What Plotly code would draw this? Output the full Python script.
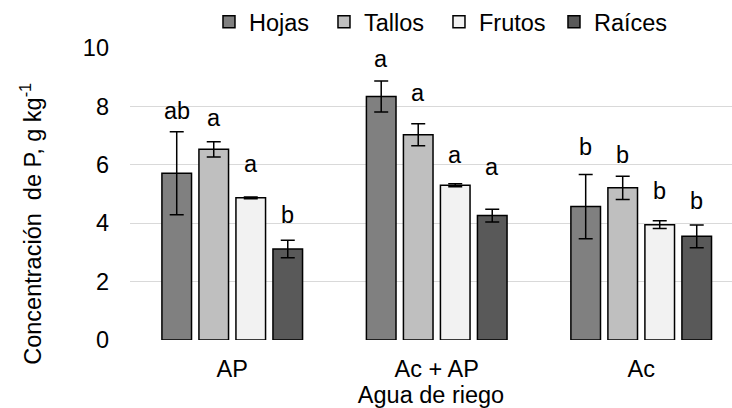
import plotly.graph_objects as go

# Tratamientos de agua de riego
categories = ["AP", "Ac + AP", "Ac"]

# Concentración de P (g kg-1) por órgano y error estándar
organs = ["Hojas", "Tallos", "Frutos", "Raíces"]
hojas = [5.71, 8.34, 4.57]
hojas_err = [1.42, 0.53, 1.10]
tallos = [6.53, 7.03, 5.21]
tallos_err = [0.26, 0.38, 0.40]
frutos = [4.87, 5.30, 3.95]
frutos_err = [0.03, 0.05, 0.13]
raices = [3.12, 4.26, 3.55]
raices_err = [0.30, 0.22, 0.39]

# Letras de comparación de medias y altura (g kg-1) a la que se escriben
hojas_letters = ["ab", "a", "b"]
tallos_letters = ["a", "a", "b"]
frutos_letters = ["a", "a", "b"]
raices_letters = ["b", "a", "b"]
hojas_letter_y = [7.53, 9.30, 6.30]
tallos_letter_y = [7.28, 8.16, 6.02]
frutos_letter_y = [5.71, 6.02, 4.79]
raices_letter_y = [3.98, 5.63, 4.46]

y_ticks = [0, 2, 4, 6, 8, 10]

FONT = "Liberation Sans, Arial, sans-serif"
FS = 23.5
colors = ["#808080", "#bfbfbf", "#f2f2f2", "#595959"]
BARGAP = 0.276
GROUPGAP = 0.2

series = [
    (hojas, hojas_err, hojas_letters, hojas_letter_y),
    (tallos, tallos_err, tallos_letters, tallos_letter_y),
    (frutos, frutos_err, frutos_letters, frutos_letter_y),
    (raices, raices_err, raices_letters, raices_letter_y),
]

fig = go.Figure()
annotations = []
slot = (1 - BARGAP) / len(series)
for i, (name, color, (vals, errs, letters, ly)) in enumerate(zip(organs, colors, series)):
    fig.add_trace(go.Bar(
        name=name,
        x=categories,
        y=vals,
        marker=dict(color=color, line=dict(color="#000000", width=1.5)),
        error_y=dict(type="data", array=errs, visible=True,
                     color="#000000", thickness=1.5, width=7),
    ))
    offset = (i - (len(series) - 1) / 2) * slot
    for k, (txt, yy) in enumerate(zip(letters, ly)):
        annotations.append(dict(
            x=k + offset, y=yy, xref="x", yref="y",
            text=txt, showarrow=False, yanchor="bottom", yshift=-6,
            font=dict(family=FONT, size=FS, color="#000000"),
        ))

annotations.append(dict(
    x=-0.1645, y=0.398, xref="paper", yref="paper",
    text="Concentración\u00a0 de P, g kg<sup>-1</sup>",
    textangle=-90, showarrow=False, xanchor="center", yanchor="middle",
    font=dict(family=FONT, size=FS, color="#000000"),
))

fig.update_layout(
    width=732, height=408,
    margin=dict(l=130, r=0, t=41, b=68),
    paper_bgcolor="#ffffff", plot_bgcolor="#ffffff",
    font=dict(family=FONT, size=FS, color="#000000"),
    barmode="group", bargap=BARGAP, bargroupgap=GROUPGAP,
    showlegend=True,
    legend=dict(orientation="h", x=0.1312, xanchor="left", y=1.09, yanchor="middle",
                font=dict(family=FONT, size=FS, color="#000000"),
                itemwidth=30, entrywidth=70, bgcolor="rgba(0,0,0,0)"),
    annotations=annotations,
    xaxis=dict(
        type="category", range=[-0.5, 2.444],
        showgrid=False, zeroline=False, showline=False,
        ticks="", ticklabelstandoff=12,
        tickfont=dict(family=FONT, size=FS, color="#000000"),
        title=dict(text="Agua de riego", standoff=6,
                   font=dict(family=FONT, size=FS, color="#000000")),
    ),
    yaxis=dict(
        range=[0, 10], tickvals=y_ticks,
        showgrid=True, gridcolor="#d9d9d9", gridwidth=1.3,
        zeroline=False, showline=False,
        ticks="", ticklabelstandoff=20,
        tickfont=dict(family=FONT, size=FS, color="#000000"),
    ),
)

fig.write_html("out.html")
